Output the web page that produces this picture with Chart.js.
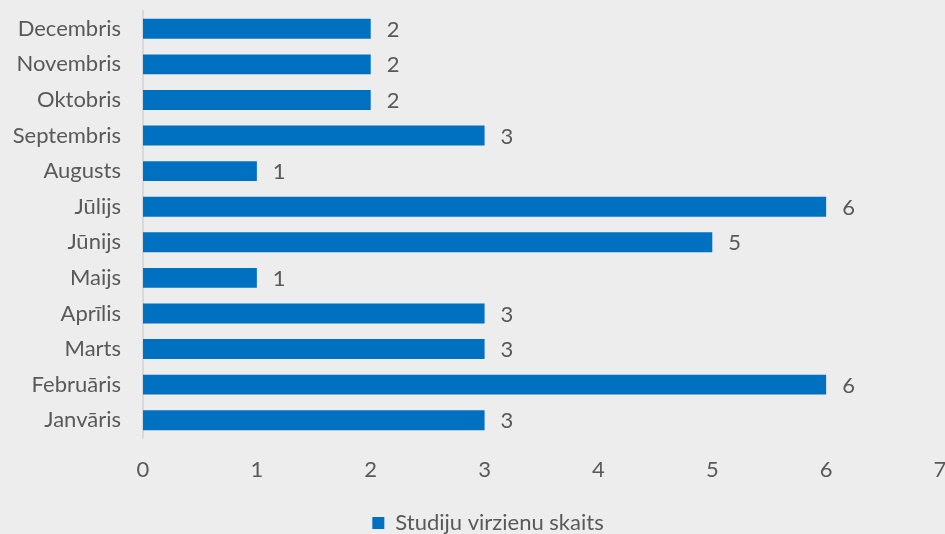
<!DOCTYPE html>
<html>
<head>
<meta charset="utf-8">
<script src="https://cdn.jsdelivr.net/npm/chart.js@4"></script>
<style>
  html, body { margin: 0; padding: 0; background: #EDEDED; }
  #wrap { width: 945px; height: 534px; }
</style>
</head>
<body>
<div id="wrap"><canvas id="barChart"></canvas></div>
<script>
const months = ["Janvāris", "Februāris", "Marts", "Aprīlis", "Maijs", "Jūnijs",
                "Jūlijs", "Augusts", "Septembris", "Oktobris", "Novembris", "Decembris"];
const counts = [3, 6, 3, 3, 1, 5, 6, 1, 3, 2, 2, 2];
const xTicks = [0, 1, 2, 3, 4, 5, 6, 7];
const seriesName = "Studiju virzienu skaits";

const textColor = "#595959";
const fontFamily = "Lato, 'Open Sans', sans-serif";

// value labels to the right of each bar
const valueLabels = {
    id: 'valueLabels',
    afterDatasetsDraw(chart) {
        const ctx = chart.ctx;
        const meta = chart.getDatasetMeta(0);
        ctx.save();
        ctx.fillStyle = textColor;
        ctx.font = "22px " + fontFamily;
        ctx.textBaseline = 'middle';
        ctx.textAlign = 'left';
        meta.data.forEach((bar, i) => {
            ctx.fillText(counts[i], bar.x + 16, bar.y + 1);
        });
        ctx.restore();
    }
};

// legend sits a little right of the canvas centre in the original
const legendShift = {
    id: 'legendShift',
    afterLayout(chart) {
        if (chart.legend) {
            chart.legend.left += 18;
            chart.legend.right += 18;
        }
    }
};

function noPadding(scale) {
    scale.paddingTop = 0;
    scale.paddingBottom = 0;
    scale.paddingLeft = 0;
    scale.paddingRight = 0;
}

const ctx = document.getElementById('barChart').getContext('2d');
new Chart(ctx, {
    type: 'bar',
    data: {
        labels: months,
        datasets: [{
            label: seriesName,
            data: counts,
            backgroundColor: "#0070C0",
            borderWidth: 0,
            barPercentage: 0.56,
            categoryPercentage: 1
        }]
    },
    options: {
        indexAxis: 'y',
        responsive: true,
        maintainAspectRatio: false,
        animation: false,
        layout: { padding: { top: 11, right: 5, left: 0, bottom: -10 } },
        scales: {
            x: {
                min: 0,
                max: 7,
                afterBuildTicks(scale) { scale.ticks = xTicks.map(v => ({ value: v })); },
                grid: { display: false, drawTicks: false },
                border: { display: false },
                ticks: { color: textColor, padding: 19, font: { size: 22, family: fontFamily } },
                afterFit(scale) { scale.height = 74; noPadding(scale); }
            },
            y: {
                reverse: true,
                grid: { display: false, drawTicks: false },
                border: { display: true, color: "#D9D9D9", width: 2 },
                ticks: { color: textColor, padding: 22, font: { size: 22, family: fontFamily } },
                afterFit(scale) { scale.width = 143; noPadding(scale); }
            }
        },
        plugins: {
            legend: {
                position: 'bottom',
                labels: {
                    color: textColor,
                    boxWidth: 12,
                    boxHeight: 12,
                    padding: 0,
                    font: { size: 22, family: fontFamily, lineHeight: 1 }
                }
            },
            tooltip: { enabled: false }
        }
    },
    plugins: [valueLabels, legendShift]
});
</script>
</body>
</html>
